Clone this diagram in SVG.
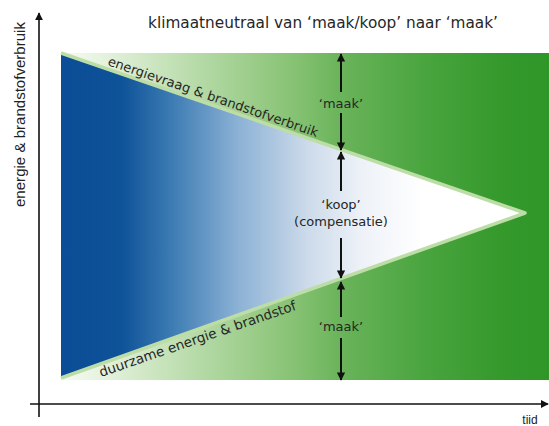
<svg xmlns="http://www.w3.org/2000/svg" width="549" height="426" viewBox="0 0 549 426">
<style>
.lbl{font-family:"DejaVu Sans",Verdana,sans-serif;fill:#262626;}
.ax{font-family:"Liberation Sans",Arial,sans-serif;fill:#222;}
.arr{stroke:#111;stroke-width:2;fill:none;}
.axis{stroke:#111;stroke-width:1.6;fill:none;}
</style>
<defs>
<linearGradient id="gGreen" x1="61" y1="0" x2="549" y2="0" gradientUnits="userSpaceOnUse">
<stop offset="0" stop-color="#f6fbf4"/>
<stop offset="0.08" stop-color="#e6f3e0"/>
<stop offset="0.28" stop-color="#b6daa7"/>
<stop offset="0.48" stop-color="#86c273"/>
<stop offset="0.57" stop-color="#6bb45b"/>
<stop offset="0.74" stop-color="#4aa53f"/>
<stop offset="0.9" stop-color="#35992c"/>
<stop offset="1" stop-color="#2f9628"/>
</linearGradient>
<linearGradient id="gBlue" x1="61" y1="0" x2="525" y2="0" gradientUnits="userSpaceOnUse">
<stop offset="0" stop-color="#0b4d96"/>
<stop offset="0.13" stop-color="#0e5298"/>
<stop offset="0.24" stop-color="#3d7cb3"/>
<stop offset="0.38" stop-color="#8bb1d5"/>
<stop offset="0.53" stop-color="#ccdaea"/>
<stop offset="0.65" stop-color="#eef2f8"/>
<stop offset="0.78" stop-color="#ffffff"/>
<stop offset="1" stop-color="#ffffff"/>
</linearGradient>
<marker id="ah" viewBox="0 0 10 10" refX="9" refY="5" markerWidth="4.5" markerHeight="4.2" orient="auto" markerUnits="strokeWidth">
<path d="M0,0 L10,5 L0,10 Z" fill="#111"/>
</marker>
<marker id="ahAxis" viewBox="0 0 10 10" refX="9" refY="5" markerWidth="5" markerHeight="5" orient="auto" markerUnits="strokeWidth">
<path d="M0,0 L10,5 L0,10 Z" fill="#111"/>
</marker>
</defs>
<rect width="549" height="426" fill="#ffffff"/>
<g id="area-maak">
<rect x="61" y="53" width="488" height="327" fill="url(#gGreen)"/>
</g>
<g id="area-koop">
<polygon points="61,53 525,213 61,378" fill="url(#gBlue)"/>
<polyline points="61,53 525,213 61,378" fill="none" stroke="#bcdea6" stroke-width="3.5" stroke-linejoin="round" stroke-linecap="butt"/>
</g>
<g id="title">
<text class="lbl" x="323" y="28" font-size="15.3" text-anchor="middle">klimaatneutraal van ‘maak/koop’ naar ‘maak’</text>
</g>
<g id="axes">
<line class="axis" x1="39" y1="417" x2="39" y2="13" marker-end="url(#ahAxis)"/>
<line class="axis" x1="30" y1="404" x2="548" y2="404" marker-end="url(#ahAxis)"/>
<text class="ax" x="0" y="0" font-size="14" text-anchor="middle" textLength="185" lengthAdjust="spacingAndGlyphs" transform="translate(25,114.5) rotate(-90)">energie &amp; brandstofverbruik</text>
<text class="ax" x="530" y="424" font-size="12" text-anchor="middle">tiid</text>
</g>
<g id="line-labels">
<text class="lbl" font-size="13" transform="translate(107,65) rotate(19)">energievraag &amp; brandstofverbruik</text>
<text class="lbl" font-size="13.5" transform="translate(101,377) rotate(-19)">duurzame energie &amp; brandstof</text>
</g>
<g id="connectors">
<line class="arr" x1="341" y1="92" x2="341" y2="54" marker-end="url(#ah)"/>
<line class="arr" x1="341" y1="113" x2="341" y2="150" marker-end="url(#ah)"/>
<line class="arr" x1="341" y1="191" x2="341" y2="152" marker-end="url(#ah)"/>
<line class="arr" x1="341" y1="238" x2="341" y2="278" marker-end="url(#ah)"/>
<line class="arr" x1="341" y1="317" x2="341" y2="282" marker-end="url(#ah)"/>
<line class="arr" x1="341" y1="338" x2="341" y2="380" marker-end="url(#ah)"/>
</g>
<g id="label-maak-top">
<text class="lbl" x="341" y="107.5" font-size="13" text-anchor="middle">‘maak’</text>
</g>
<g id="label-koop">
<text class="lbl" x="341" y="209" font-size="13" text-anchor="middle">‘koop’</text>
<text class="lbl" x="341" y="226" font-size="13" text-anchor="middle">(compensatie)</text>
</g>
<g id="label-maak-bottom">
<text class="lbl" x="341" y="330.5" font-size="13" text-anchor="middle">‘maak’</text>
</g>
</svg>
